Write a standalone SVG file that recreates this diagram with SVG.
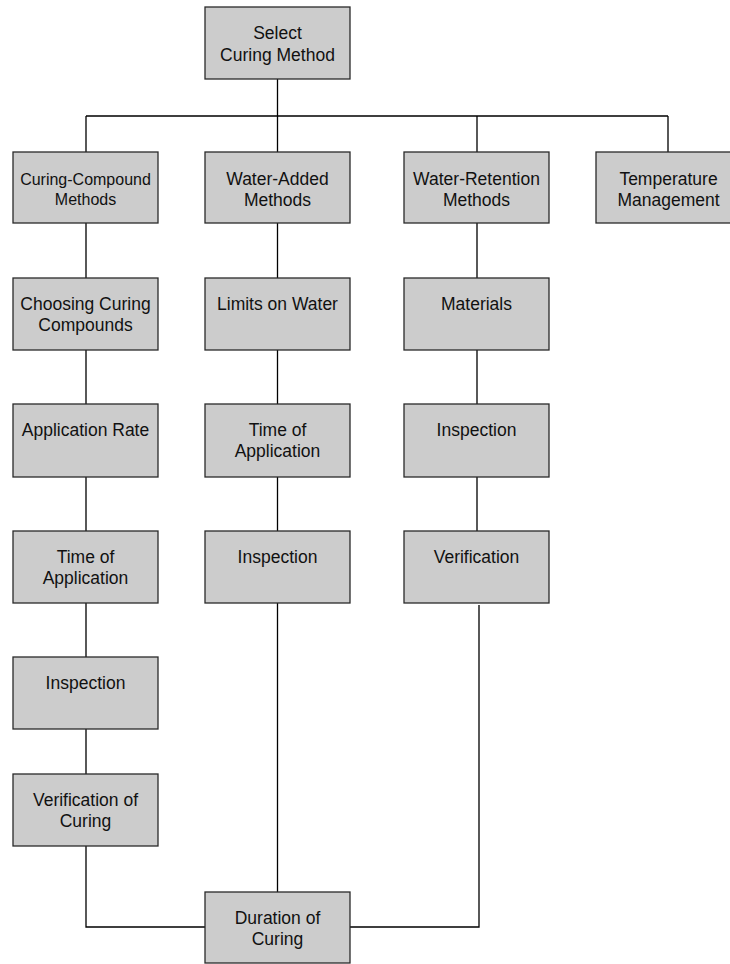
<svg xmlns="http://www.w3.org/2000/svg" width="730" height="964" viewBox="0 0 730 964">
<style>
.box{fill:#cccccc;stroke:#2a2a2a;stroke-width:1.3}
.t{font-family:"Liberation Sans",Arial,sans-serif;font-size:17.5px;fill:#111;text-anchor:middle}
.s{font-size:16px}
.c{fill:none;stroke:#000;stroke-width:1.3}
</style>
<rect width="730" height="964" fill="#fff"/>
<g id="connectors">
<path class="c" d="M277.5 79V116M86 116H668M86 116V152M277.5 116V152M477 116V152M668 116V152"/>
<path class="c" d="M86 223V278M86 350V404M86 477V531M86 603V657M86 729V774M86 846V927H205"/>
<path class="c" d="M277.5 223V278M277.5 350V404M277.5 477V531M277.5 603V892"/>
<path class="c" d="M477 223V278M477 350V404M477 477V531M479 605V927H350"/>
</g>
<g id="n-select"><rect class="box" x="205" y="7" width="145" height="72"/><text class="t" x="277.5" y="39">Select</text><text class="t" x="277.5" y="61">Curing Method</text></g>
<g id="n-compound"><rect class="box" x="13" y="152" width="145" height="71"/><text class="t s" x="85.5" y="185">Curing-Compound</text><text class="t s" x="85.5" y="205">Methods</text></g>
<g id="n-wateradded"><rect class="box" x="205" y="152" width="145" height="71"/><text class="t" x="277.5" y="185">Water-Added</text><text class="t" x="277.5" y="206">Methods</text></g>
<g id="n-waterret"><rect class="box" x="404" y="152" width="145" height="71"/><text class="t" x="476.5" y="185">Water-Retention</text><text class="t" x="476.5" y="206">Methods</text></g>
<g id="n-temp"><rect class="box" x="596" y="152" width="145" height="71"/><text class="t" x="668.5" y="185">Temperature</text><text class="t" x="668.5" y="206">Management</text></g>
<g id="n-choosing"><rect class="box" x="13" y="278" width="145" height="72"/><text class="t" x="85.5" y="310">Choosing Curing</text><text class="t" x="85.5" y="331">Compounds</text></g>
<g id="n-limits"><rect class="box" x="205" y="278" width="145" height="72"/><text class="t" x="277.5" y="310">Limits on Water</text></g>
<g id="n-materials"><rect class="box" x="404" y="278" width="145" height="72"/><text class="t" x="476.5" y="310">Materials</text></g>
<g id="n-apprate"><rect class="box" x="13" y="404" width="145" height="73"/><text class="t" x="85.5" y="436">Application Rate</text></g>
<g id="n-time2"><rect class="box" x="205" y="404" width="145" height="73"/><text class="t" x="277.5" y="436">Time of</text><text class="t" x="277.5" y="457">Application</text></g>
<g id="n-insp3"><rect class="box" x="404" y="404" width="145" height="73"/><text class="t" x="476.5" y="436">Inspection</text></g>
<g id="n-time1"><rect class="box" x="13" y="531" width="145" height="72"/><text class="t" x="85.5" y="563">Time of</text><text class="t" x="85.5" y="584">Application</text></g>
<g id="n-insp2"><rect class="box" x="205" y="531" width="145" height="72"/><text class="t" x="277.5" y="563">Inspection</text></g>
<g id="n-verif3"><rect class="box" x="404" y="531" width="145" height="72"/><text class="t" x="476.5" y="563">Verification</text></g>
<g id="n-insp1"><rect class="box" x="13" y="657" width="145" height="72"/><text class="t" x="85.5" y="689">Inspection</text></g>
<g id="n-verif1"><rect class="box" x="13" y="774" width="145" height="72"/><text class="t" x="85.5" y="806">Verification of</text><text class="t" x="85.5" y="827">Curing</text></g>
<g id="n-duration"><rect class="box" x="205" y="892" width="145" height="71"/><text class="t" x="277.5" y="924">Duration of</text><text class="t" x="277.5" y="945">Curing</text></g>
</svg>
